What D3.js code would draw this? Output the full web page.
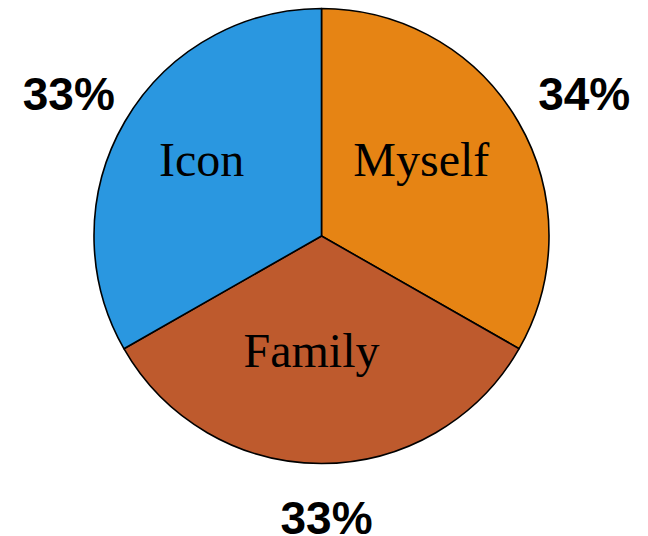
<!DOCTYPE html>
<html lang="en">
<head>
    <meta charset="UTF-8">
    <title>Pie</title>
    <style>
        body { margin: 0; background: #fff; }
        svg { display: block; }
    </style>
</head>
<body>
<div id="chart"></div>
<script src="https://cdn.jsdelivr.net/npm/d3@7"></script>
<script>
    // slices clockwise from 12 o'clock
    const categories = ["Myself", "Family", "Icon"]
    const sliceValues = [33.25, 33.5, 33.25]
    const pctLabels = ["34%", "33%", "33%"]
    const colors = ["#E68414", "#BE5A2D", "#2A97E0"]

    const width = 648
    const height = 536
    const cx = 321.5
    const cy = 236
    const radius = 227.5

    const svg = d3.select("#chart").append("svg")
        .attr("width", width)
        .attr("height", height)

    const g = svg.append("g")
        .attr("transform", `translate(${cx}, ${cy})`)

    const pie = d3.pie().sort(null).value((d) => d.value)
    const data = categories.map((c, i) => ({ name: c, value: sliceValues[i], pct: pctLabels[i], color: colors[i] }))
    const arcs = pie(data)

    const arc = d3.arc().innerRadius(0).outerRadius(radius)
    const nameArc = d3.arc().innerRadius(127).outerRadius(127)
    // unit arc, percent labels sit on a slightly flattened ring
    const unitArc = d3.arc().innerRadius(1).outerRadius(1)
    const pctRx = 298
    const pctRy = 282

    g.selectAll(".slice")
        .data(arcs)
        .enter().append("path")
        .attr("class", "slice")
        .attr("d", arc)
        .attr("fill", (d) => d.data.color)
        .attr("stroke", "#000")
        .attr("stroke-width", 1.6)
        .attr("stroke-linejoin", "round")

    g.selectAll(".name")
        .data(arcs)
        .enter().append("text")
        .attr("class", "name")
        .attr("transform", (d) => {
            const [x, y] = nameArc.centroid(d)
            return `translate(${x - 10}, ${y - 13})`
        })
        .attr("dy", "0.35em")
        .attr("text-anchor", "middle")
        .style("font-family", "'Liberation Serif', 'Times New Roman', serif")
        .style("font-size", "48px")
        .attr("fill", "#000")
        .text((d) => d.data.name)

    g.selectAll(".pct")
        .data(arcs)
        .enter().append("text")
        .attr("class", "pct")
        .attr("transform", (d) => {
            const [ux, uy] = unitArc.centroid(d)
            return `translate(${ux * pctRx + 5}, ${uy * pctRy})`
        })
        .attr("dy", "0.35em")
        .attr("text-anchor", "middle")
        .style("font-family", "'Liberation Sans', Arial, sans-serif")
        .style("font-weight", "bold")
        .style("font-size", "46px")
        .attr("fill", "#000")
        .text((d) => d.data.pct)
</script>
</body>
</html>
